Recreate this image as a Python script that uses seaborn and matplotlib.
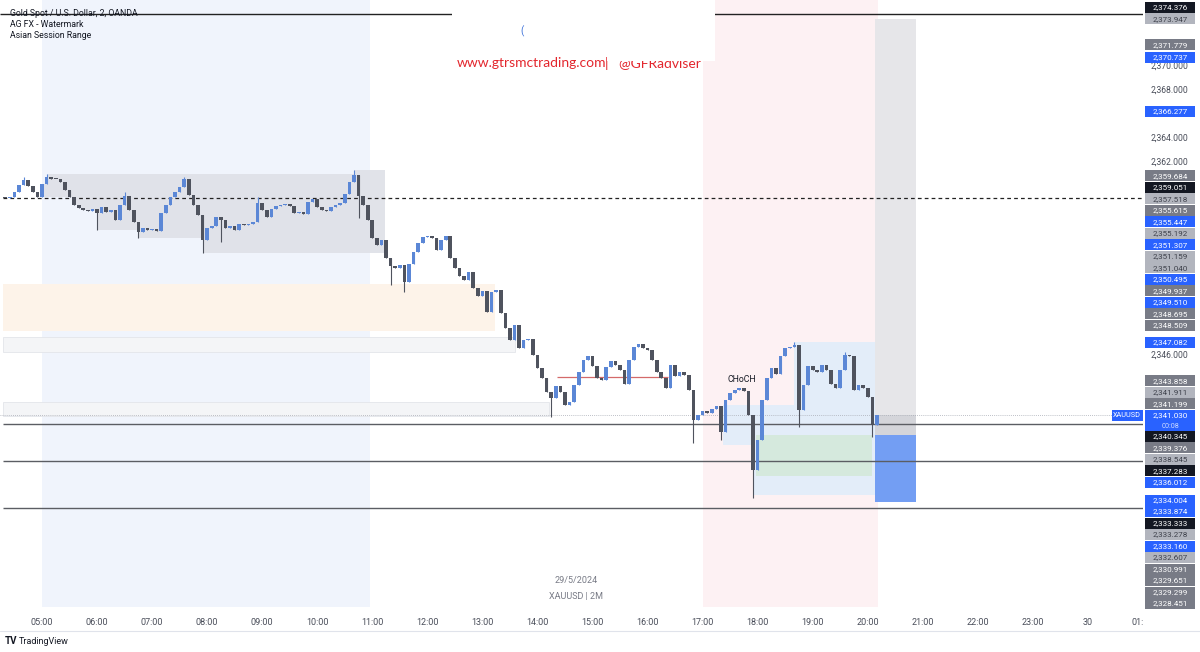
import numpy as np
import matplotlib
matplotlib.use("Agg")
import matplotlib.pyplot as plt
from matplotlib.patches import Rectangle
from matplotlib.lines import Line2D
import seaborn as sns

# ---------------- data ----------------
first_bar = "04:20"
bar_minutes = 5
first_open = 2359.10
closes = [
    2359.07, 2359.15, 2359.57, 2360.15, 2360.56, 2360.07, 2359.57, 2359.15, 2360.23, 2360.81,
    2360.65, 2360.62, 2360.40, 2359.73, 2359.15, 2358.49, 2358.24, 2358.07, 2357.99, 2358.16,
    2357.83, 2358.32, 2357.91, 2358.07, 2357.25, 2358.49, 2359.24, 2358.07, 2357.08, 2356.25,
    2356.58, 2356.41, 2356.50, 2356.33, 2357.83, 2358.49, 2359.15, 2359.57, 2359.98, 2360.65,
    2359.32, 2358.49, 2357.66, 2355.59, 2356.58, 2356.75, 2357.49, 2357.25, 2356.58, 2356.75,
    2356.41, 2356.91, 2356.83, 2356.95, 2357.08, 2358.66, 2358.07, 2357.49, 2358.16, 2358.41,
    2358.49, 2358.57, 2358.41, 2357.83, 2357.91, 2357.74, 2358.74, 2358.99, 2358.32, 2358.07,
    2357.99, 2358.32, 2358.49, 2358.66, 2359.40, 2360.40, 2360.98, 2359.24, 2358.49, 2357.25,
    2355.75, 2355.17, 2355.59, 2354.09, 2353.43, 2353.26, 2353.51, 2352.10, 2353.59, 2354.59,
    2355.34, 2355.83, 2355.92, 2355.75, 2354.76, 2355.59, 2355.92, 2354.09, 2353.26, 2352.60,
    2352.27, 2352.93, 2351.60, 2350.94, 2351.35, 2349.61, 2351.27, 2351.44, 2349.53, 2348.28,
    2347.29, 2348.53, 2346.62, 2347.29, 2347.37, 2346.04, 2344.96, 2344.13, 2342.97, 2342.47,
    2343.47, 2342.97, 2341.89, 2342.14, 2343.55, 2344.63, 2345.63, 2345.96, 2345.13, 2344.13,
    2343.97, 2345.05, 2345.54, 2345.21, 2344.80, 2343.64, 2345.63, 2346.71, 2346.95, 2346.62,
    2346.46, 2345.63, 2344.63, 2344.13, 2343.30, 2345.21, 2344.30, 2344.63, 2344.38, 2343.14,
    2340.65, 2341.06, 2341.39, 2341.23, 2341.56, 2341.81, 2339.65, 2342.31, 2342.89, 2343.14,
    2343.30, 2343.05, 2341.06, 2336.50, 2338.99, 2342.31, 2344.13, 2344.96, 2344.47, 2345.96,
    2346.62, 2346.71, 2346.87, 2341.48, 2343.55, 2345.13, 2344.80, 2344.63, 2345.21, 2344.80,
    2343.64, 2343.30, 2344.80, 2346.04, 2345.96, 2343.14, 2343.55, 2343.30, 2342.56, 2340.23,
    2341.03,
]
spike_high_times = ["04:40", "05:05", "06:30", "07:35", "08:55", "10:40", "18:40", "19:35"]
spike_high_values = [2360.83, 2361.06, 2359.57, 2360.81, 2359.15, 2361.39, 2347.12, 2346.29]
spike_low_times = ["06:00", "06:45", "07:55", "08:15", "10:45", "11:20", "11:35", "14:15",
                   "16:50", "17:20", "17:55", "18:45", "20:05"]
spike_low_values = [2356.41, 2355.75, 2354.51, 2355.42, 2357.41, 2351.85, 2351.27, 2340.90,
                    2338.74, 2338.99, 2334.20, 2340.07, 2339.24]

time_tick_hours = list(range(5, 26))
time_tick_labels = ["05:00", "06:00", "07:00", "08:00", "09:00", "10:00", "11:00", "12:00",
                    "13:00", "14:00", "15:00", "16:00", "17:00", "18:00", "19:00", "20:00",
                    "21:00", "22:00", "23:00", "30", "01:00"]

asian_session = ("05:00", "10:57")
asian_range_window = ("05:00", "11:10")
asian_range_end = "11:14"
ny_session = ("17:00", "20:11")

hline_top = 2374.376
hline_dashed = 2359.051
hlines_solid = [2340.345, 2337.283, 2333.333]
current_price = 2341.030
countdown = "00:08"

zone_peach = ("04:20", "13:14", 2348.03, 2351.93)
zone_band1 = ("04:20", "13:35", 2346.25, 2347.54)
zone_band2 = ("04:20", "14:13", 2340.94, 2342.18)
red_level = ("14:21", "16:22", 2344.22)
choch_label = ("17:43", 2343.97, "CHoCH")
position_box = ("20:08", "20:53", 2373.947, 2339.376, 2333.874)
green_zone = ("17:58", "20:05", 2336.012, 2339.376)
light_blue_zones = [("18:40", "20:08", 2334.40, 2347.082),
                    ("17:22", "18:40", 2338.57, 2341.89),
                    ("17:55", "18:40", 2334.40, 2338.57)]

axis_label_prices = [2374.376, 2373.947, 2371.779, 2370.737, 2366.277, 2359.684, 2359.051,
                     2357.518, 2355.615, 2355.447, 2355.192, 2351.307, 2351.159, 2351.040,
                     2350.495, 2349.937, 2349.510, 2348.695, 2348.509, 2347.082, 2343.858,
                     2341.911, 2341.199, 2340.345, 2339.376, 2338.545, 2337.283, 2336.012,
                     2334.004, 2333.874, 2333.333, 2333.278, 2333.160, 2332.607, 2330.991,
                     2329.651, 2329.299, 2328.451]
axis_label_kinds = ["black", "light", "mid", "blue", "blue", "mid", "black",
                    "light", "mid", "blue", "light", "blue", "light", "light",
                    "blue", "mid", "blue", "mid", "mid", "blue", "mid",
                    "light", "mid", "black", "mid", "light", "black", "blue",
                    "blue", "blue", "black", "light", "blue", "light", "mid",
                    "mid", "mid", "mid"]

# ---------------- layout constants ----------------
PX_PER_USD = 12.05
TOP_PRICE = 2375.50
PX_PER_HOUR = 55.07
LEFT_HOUR = 5.0 - 42 / PX_PER_HOUR
W, H = 1200, 652
PLOT_W, PLOT_H, SCALE_H = 1143, 607, 630


def hours(s):
    h, m = s.split(":")
    return int(h) + int(m) / 60.0


sns.set_theme(style="white")
plt.rcParams["font.family"] = ["Roboto", "DejaVu Sans"]

fig = plt.figure(figsize=(W / 100, H / 100), dpi=100)
ax = fig.add_axes([0, 1 - PLOT_H / H, PLOT_W / W, PLOT_H / H])
ax2 = fig.add_axes([PLOT_W / W, 1 - SCALE_H / H, (W - PLOT_W) / W, SCALE_H / H])
ax2.set_zorder(ax.get_zorder() + 1)

ax.set_xlim(LEFT_HOUR, LEFT_HOUR + PLOT_W / PX_PER_HOUR)
ax.set_ylim(TOP_PRICE - PLOT_H / PX_PER_USD, TOP_PRICE)
ax2.set_xlim(0, 1)
ax2.set_ylim(TOP_PRICE - SCALE_H / PX_PER_USD, TOP_PRICE)
x_left, x_right = ax.get_xlim()
y_low, y_high = ax.get_ylim()

# ---------------- candles ----------------
closes_a = np.array(closes)
n = len(closes_a)
t = hours(first_bar) + np.arange(n) * bar_minutes / 60.0
opens = np.concatenate([[first_open], closes_a[:-1]])
highs = np.maximum(opens, closes_a)
lows = np.minimum(opens, closes_a)
for s, v in zip(spike_high_times, spike_high_values):
    i = int(round((hours(s) - hours(first_bar)) * 60 / bar_minutes))
    highs[i] = max(highs[i], v)
for s, v in zip(spike_low_times, spike_low_values):
    i = int(round((hours(s) - hours(first_bar)) * 60 / bar_minutes))
    lows[i] = min(lows[i], v)

up_col, down_col = "#5b87d6", "#4f535e"
cols = np.where(closes_a >= opens, up_col, down_col)
body_h = np.where(np.abs(closes_a - opens) < 0.06, 0.06, closes_a - opens)
ax.vlines(t, lows, highs, colors=cols, linewidth=0.8, zorder=4)
ax.bar(t, body_h, bottom=opens, width=0.066, color=cols, linewidth=0, zorder=4.1)

# ---------------- backgrounds / zones ----------------
def rect(t0, t1, p0, p1, color, z, **kw):
    ax.add_patch(Rectangle((t0, p0), t1 - t0, p1 - p0, facecolor=color,
                           edgecolor=kw.pop("ec", "none"), linewidth=kw.pop("lw", 0),
                           zorder=z, **kw))

rect(hours(asian_session[0]), hours(asian_session[1]), y_low, y_high, "#f0f4fc", 0.5)
rect(hours(ny_session[0]), hours(ny_session[1]), y_low, y_high, "#fdf1f3", 0.5)

rect(hours(zone_peach[0]) - 0.05, hours(zone_peach[1]), zone_peach[2], zone_peach[3], "#fdf3e9", 1)
rect(hours(zone_band1[0]) - 0.05, hours(zone_band1[1]), zone_band1[2], zone_band1[3], "#f4f5f7", 1,
     ec="#e3e5ea", lw=0.6)
rect(hours(zone_band2[0]) - 0.05, hours(zone_band2[1]), zone_band2[2], zone_band2[3], "#f4f5f7", 1,
     ec="#e3e5ea", lw=0.6)

# Asian session running range
m = (t >= hours(asian_range_window[0])) & (t <= hours(asian_range_window[1]))
rt = np.append(t[m], hours(asian_range_end))
rh = np.maximum.accumulate(highs[m])
rl = np.minimum.accumulate(lows[m])
rh = np.append(rh, rh[-1])
rl = np.append(rl, rl[-1])
ax.fill_between(rt, rl, rh, step="post", color="#e0e2e8", alpha=0.95, linewidth=0, zorder=1.5)

for z in light_blue_zones:
    rect(hours(z[0]), hours(z[1]), z[2], z[3], "#e3edf9", 1.6)
rect(hours(green_zone[0]), hours(green_zone[1]), green_zone[2], green_zone[3], "#d5e9dd", 1.7)

pb = position_box
rect(hours(pb[0]), hours(pb[1]), current_price, pb[2], "#e6e6e9", 2)
rect(hours(pb[0]), hours(pb[1]), pb[3], current_price, "#d4d5da", 2)
rect(hours(pb[0]), hours(pb[1]), pb[4], pb[3], "#739ef3", 2)

# ---------------- lines ----------------
ax.hlines(hline_top, x_left, x_right, color="#222222", linewidth=1.0, zorder=3)
ax.hlines(hline_dashed, x_left + 0.06, x_right, color="#222222", linewidth=0.9,
          linestyles=(0, (3, 2.5)), zorder=3)
ax.hlines(hlines_solid, x_left + 0.06, x_right, color="#5b5d63", linewidth=1.0, zorder=3)
ax.hlines(current_price, x_left, x_right, color="#a9acb5", linewidth=0.6,
          linestyles=(0, (1, 1.5)), zorder=3)
ax.hlines(red_level[2], hours(red_level[0]), hours(red_level[1]), color="#d46a6a",
          linewidth=0.9, zorder=3)

# watermark area
wm_t0, wm_t1 = LEFT_HOUR + 452 / PX_PER_HOUR, LEFT_HOUR + 715 / PX_PER_HOUR
rect(wm_t0, wm_t1, TOP_PRICE - 45 / PX_PER_USD, y_high, "white", 5)
ax.text(LEFT_HOUR + 522 / PX_PER_HOUR, TOP_PRICE - 31 / PX_PER_USD, "(", color="#3a6fd8",
        fontsize=7, ha="center", va="center", zorder=6)
ax.text(LEFT_HOUR + 457 / PX_PER_HOUR, TOP_PRICE - 63 / PX_PER_USD, "www.gtrsmctrading.com",
        color="#e3262d", fontsize=10, family=["Lato", "DejaVu Sans"], ha="left", va="center",
        zorder=6)
ax.text(LEFT_HOUR + 605 / PX_PER_HOUR, TOP_PRICE - 63 / PX_PER_USD, "|   @GFRadviser",
        color="#e3262d", fontsize=10, family=["Lato", "DejaVu Sans"], ha="left", va="center",
        zorder=6)
rect(LEFT_HOUR + 607 / PX_PER_HOUR, wm_t1, TOP_PRICE - 61 / PX_PER_USD,
     TOP_PRICE - 44 / PX_PER_USD, "white", 7)

# texts
ax.text(hours(choch_label[0]), choch_label[1], choch_label[2], fontsize=6.3, color="#131722",
        ha="center", va="center", zorder=6)
ax.text(14.70, TOP_PRICE - 580 / PX_PER_USD, "29/5/2024", fontsize=6.5, color="#787b86",
        ha="center", va="center", zorder=6)
ax.text(14.70, TOP_PRICE - 596 / PX_PER_USD, "XAUUSD | 2M", fontsize=6.5, color="#787b86",
        ha="center", va="center", zorder=6)
for k, s in enumerate(["Gold Spot / U.S. Dollar, 2, OANDA", "AG FX - Watermark",
                       "Asian Session Range"]):
    ax.text(10 / PLOT_W, 1 - (13 + 11.5 * k) / PLOT_H, s, transform=ax.transAxes,
            fontsize=6.3, color="#131722", ha="left", va="center", zorder=6)

# XAUUSD tag
lab_h = 11 / PX_PER_USD
rect(LEFT_HOUR + 1112 / PX_PER_HOUR, x_right, current_price - lab_h / 2, current_price + lab_h / 2,
     "#2962ff", 6)
ax.text(LEFT_HOUR + 1127 / PX_PER_HOUR, current_price, "XAUUSD", color="white", fontsize=5.2,
        ha="center", va="center", zorder=7)

# ---------------- time axis ----------------
ax.set_xticks([h for h in time_tick_hours])
ax.set_xticklabels(time_tick_labels)
ax.tick_params(axis="x", length=0, pad=8, labelsize=6.5, labelcolor="#4a4e5a")
ax.set_yticks([])
for sp in ax.spines.values():
    sp.set_visible(False)

# ---------------- price scale ----------------
ax2.set_facecolor("white")
ax2.set_xticks([])
ax2.set_yticks([])
for sp in ax2.spines.values():
    sp.set_visible(False)

styles = {"black": ("#131722", "white"), "mid": ("#787b86", "white"),
          "light": ("#b2b5be", "#3d404a"), "blue": ("#2962ff", "white")}
row = 11.5 / PX_PER_USD
positions = []
prev = current_price
for p, k in sorted([(p, k) for p, k in zip(axis_label_prices, axis_label_kinds) if p > current_price]):
    pos = max(p, prev + row)
    positions.append((p, k, pos))
    prev = pos
prev = current_price - 21 / PX_PER_USD + row
for p, k in sorted([(p, k) for p, k in zip(axis_label_prices, axis_label_kinds) if p < current_price],
                   reverse=True):
    pos = min(p, prev - row)
    positions.append((p, k, pos))
    prev = pos

# plain price ticks only where no coloured label hides them
occupied = [pos for _, _, pos in positions] + [current_price, current_price - 11 / PX_PER_USD]
for p in np.arange(2326, 2376, 2):
    if min(abs(p - o) for o in occupied) * PX_PER_USD > 8.5:
        ax2.text(0.47, p, f"{p:,.3f}", fontsize=6.2, color="#4a4e5a", ha="center",
                 va="center", zorder=1)

bx0, bw = 2 / 57, 50 / 57
for p, k, pos in positions:
    bg, fg = styles[k]
    ax2.add_patch(Rectangle((bx0, pos - lab_h / 2), bw, lab_h, facecolor=bg, edgecolor="none",
                            zorder=3))
    ax2.text(bx0 + bw / 2, pos, f"{p:,.3f}", fontsize=5.8, color=fg, ha="center", va="center",
             zorder=4)
ax2.add_patch(Rectangle((bx0, current_price - 16 / PX_PER_USD), bw, 21.75 / PX_PER_USD,
                        facecolor="#2962ff", edgecolor="none", zorder=3))
ax2.text(bx0 + bw / 2, current_price + 0.5 / PX_PER_USD, f"{current_price:,.3f}", fontsize=5.8,
         color="white", ha="center", va="center", zorder=4)
ax2.text(bx0 + bw / 2, current_price - 11 / PX_PER_USD, countdown, fontsize=5.2, color="#cfdcff",
         ha="center", va="center", zorder=4)

# ---------------- footer ----------------
fig.add_artist(Line2D([0, 1], [1 - 631 / H] * 2, transform=fig.transFigure, color="#e0e3eb",
                      linewidth=0.8))
fig.text(5 / W, 1 - 641 / H, "TV", fontsize=7, fontweight="bold", color="#131722",
         ha="left", va="center")
fig.text(19 / W, 1 - 641 / H, "TradingView", fontsize=6.5, color="#131722", ha="left",
         va="center")

fig.savefig("out.png", dpi=100, facecolor="white")
